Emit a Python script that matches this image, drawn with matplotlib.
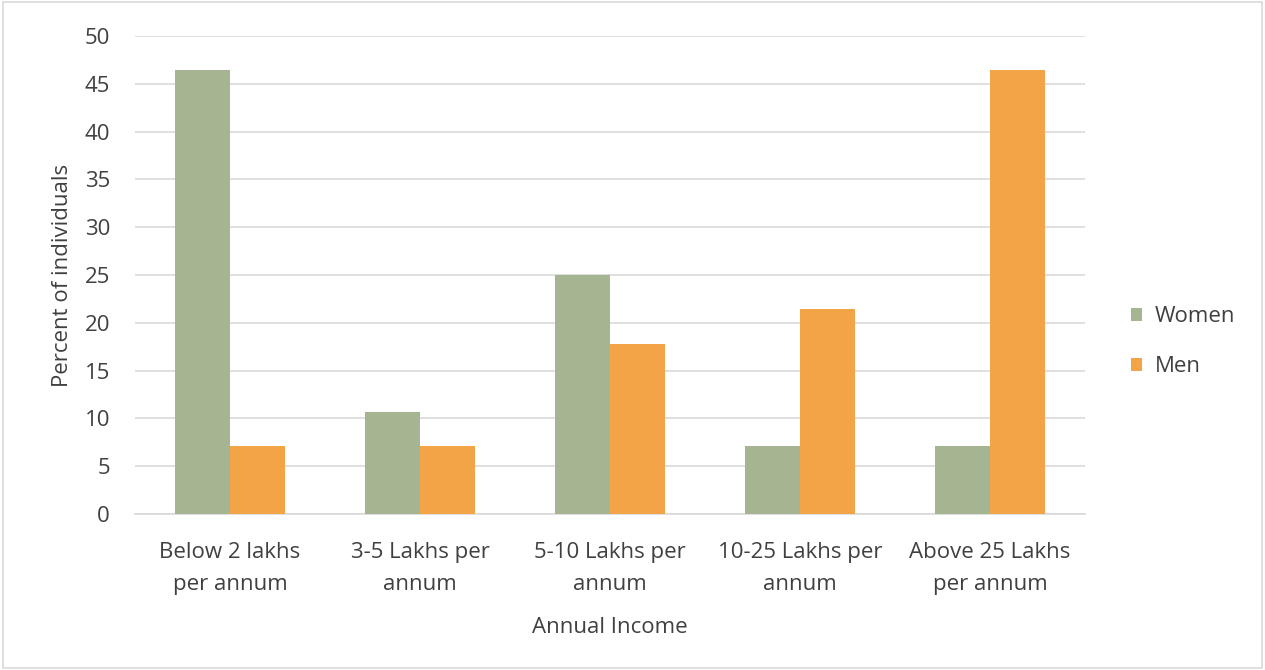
import numpy as np
import matplotlib.pyplot as plt
from matplotlib.patches import Rectangle

plt.rcParams['font.family'] = ['Open Sans', 'DejaVu Sans']

# data
categories = ['Below 2 lakhs\nper annum', '3-5 Lakhs per\nannum', '5-10 Lakhs per\nannum',
              '10-25 Lakhs per\nannum', 'Above 25 Lakhs\nper annum']
women = [46.4, 10.7, 25.0, 7.1, 7.1]
men = [7.1, 7.1, 17.8, 21.4, 46.4]
series_names = ['Women', 'Men']
colors = ['#A5B592', '#F3A447']
text_color = '#404040'
fs = 16

fig = plt.figure(figsize=(12.65, 6.7), dpi=100)
ax = fig.add_axes([0.1067, 0.2328, 0.7510, 0.7135])

x = np.arange(len(categories))
w = 0.29
ax.bar(x - w / 2, women, w, color=colors[0], label=series_names[0], zorder=3)
ax.bar(x + w / 2, men, w, color=colors[1], label=series_names[1], zorder=3)

ax.set_xlim(-0.5, len(categories) - 0.5)
ax.set_ylim(0, 50)
ax.set_yticks(np.arange(0, 51, 5))
ax.yaxis.grid(True, color='#D9D9D9', linewidth=1.2, zorder=0)
ax.set_axisbelow(True)
for s in ['top', 'right', 'left']:
    ax.spines[s].set_visible(False)
ax.spines['bottom'].set_color('#D9D9D9')
ax.spines['bottom'].set_linewidth(1.2)
ax.tick_params(axis='both', length=0, labelsize=fs, colors=text_color)
ax.tick_params(axis='y', pad=18)
ax.tick_params(axis='x', pad=20)
ax.set_xticks(x)
ax.set_xticklabels(categories, linespacing=1.7)

ax.set_xlabel('Annual Income', fontsize=fs, color=text_color, labelpad=16)
ax.set_ylabel('Percent of individuals', fontsize=fs, color=text_color, labelpad=8)

leg = fig.legend(loc='center left', bbox_to_anchor=(0.878, 0.49), frameon=False,
                 fontsize=fs, handlelength=0.5, handleheight=0.5, labelspacing=1.3,
                 handletextpad=0.6)
for t in leg.get_texts():
    t.set_color(text_color)

# outer chart border
fig.patches.append(Rectangle((0.002, 0.003), 0.996, 0.994, transform=fig.transFigure,
                             fill=False, edgecolor='#D9D9D9', linewidth=1.2))

fig.savefig('out.png', dpi=100)
